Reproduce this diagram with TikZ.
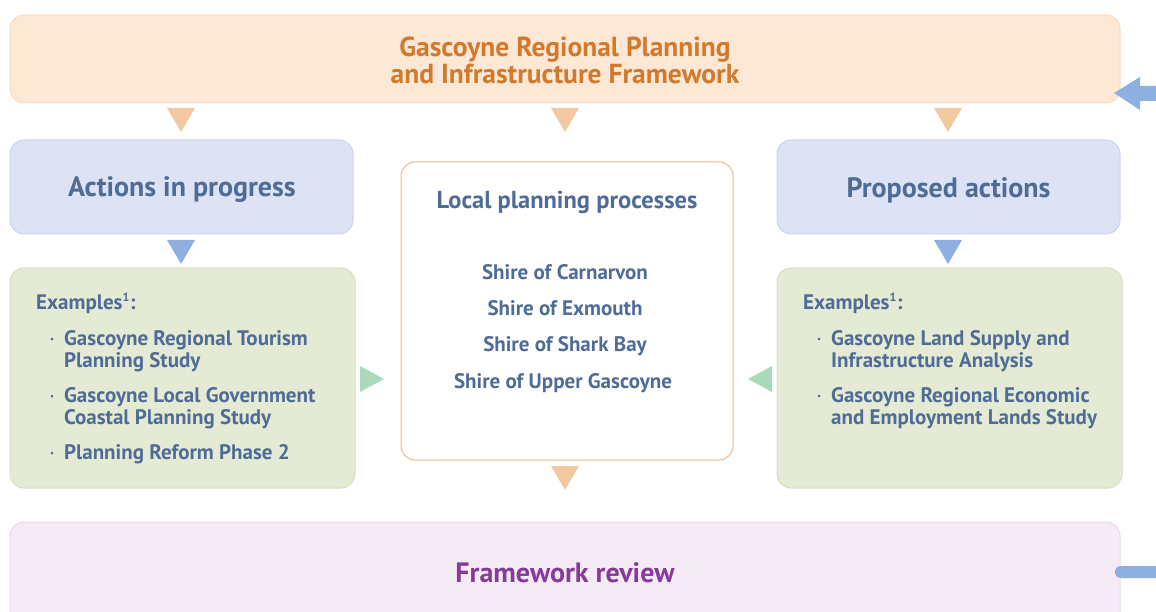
\documentclass[tikz,border=0pt]{standalone}
\usepackage{fontspec}
\setmainfont{PT Sans}
\usetikzlibrary{calc}
\definecolor{peach}{HTML}{FCE8D5}
\definecolor{peachline}{HTML}{F6DCC3}
\definecolor{orangetxt}{HTML}{D27A2C}
\definecolor{orangetri}{HTML}{F1C9A1}
\definecolor{lav}{HTML}{DDE2F4}
\definecolor{lavline}{HTML}{CDD3EE}
\definecolor{bluetxt}{HTML}{4E6C96}
\definecolor{bluetri}{HTML}{8EB0E0}
\definecolor{sage}{HTML}{E4EAD4}
\definecolor{sageline}{HTML}{D6DFC3}
\definecolor{greentri}{HTML}{AADABA}
\definecolor{centline}{HTML}{EDBA8B}
\definecolor{pinkbg}{HTML}{F4EBF5}
\definecolor{pinkline}{HTML}{E8D8EA}
\definecolor{purptxt}{HTML}{88399B}
\tikzset{
  box/.style={rounded corners=14pt, line width=1pt},
}
\begin{document}
\begin{tikzpicture}[x=1pt,y=-1pt]
\useasboundingbox (0,0) rectangle (1156,612);
\begin{scope}
\clip (0,0) rectangle (1156,612);
% boxes
\draw[box, fill=peach, draw=peachline] (10,15) rectangle (1120,103);
\node[font=\bfseries\fontsize{27.5}{27}\selectfont, text=orangetxt, align=center] (top) at (565,60) {Gascoyne Regional Planning\\and Infrastructure Framework};

\draw[box, fill=lav, draw=lavline] (10,140) rectangle (353,234);
\node[font=\bfseries\fontsize{28}{32}\selectfont, text=bluetxt] (prog) at (182,190) {Actions in progress};
\draw[box, fill=lav, draw=lavline] (777,140) rectangle (1120,234);
\node[font=\bfseries\fontsize{28}{32}\selectfont, text=bluetxt] (prop) at (948.5,190) {Proposed actions};

\draw[box, fill=white, draw=centline] (401,162) rectangle (733,460);
\node[font=\bfseries\fontsize{24.5}{28}\selectfont, text=bluetxt] (local) at (567,202) {Local planning processes};
\begin{scope}[every node/.style={font=\bfseries\fontsize{21}{25}\selectfont, text=bluetxt}]
\node (s1) at (565,272) {Shire of Carnarvon};
\node (s2) at (565,308) {Shire of Exmouth};
\node (s3) at (565,346) {Shire of Shark Bay};
\node (s4) at (563,383) {Shire of Upper Gascoyne};
\end{scope}

\draw[box, fill=sage, draw=sageline] (10,268) rectangle (355,488);
\draw[box, fill=sage, draw=sageline] (777,268) rectangle (1122,488);
\begin{scope}[every node/.style={font=\bfseries\fontsize{21}{25}\selectfont, text=bluetxt, anchor=base west, inner sep=0pt}]
\node (exl) at (36,309) {Examples\textsuperscript{\fontsize{12}{12}\selectfont 1}:};
\node (l1a) at (64,345) {Gascoyne Regional Tourism};
\node (l1b) at (64,367) {Planning Study};
\node (l2a) at (64,402) {Gascoyne Local Government};
\node (l2b) at (64,424) {Coastal Planning Study};
\node (l3a) at (64,459) {Planning Reform Phase 2};
\node (exr) at (803,309) {Examples\textsuperscript{\fontsize{12}{12}\selectfont 1}:};
\node (r1a) at (831,345) {Gascoyne Land Supply and};
\node (r1b) at (831,367) {Infrastructure Analysis};
\node (r2a) at (831,402) {Gascoyne Regional Economic};
\node (r2b) at (831,424) {and Employment Lands Study};
\end{scope}
\foreach \y in {339,396,453} {
  \fill[bluetxt] (52,\y) circle (1.5);
}
\foreach \y in {339,396} {
  \fill[bluetxt] (819,\y) circle (1.5);
}

\draw[box, fill=pinkbg, draw=pinkline] (10,522) rectangle (1120,640);
\node[font=\bfseries\fontsize{28}{32}\selectfont, text=purptxt] (rev) at (565,573) {Framework review};

% triangles
\foreach \x in {181,565,948} {
  \fill[orangetri] (\x-14,108) -- (\x+14,108) -- (\x,132) -- cycle;
}
\fill[orangetri] (551,466) -- (579,466) -- (565,490) -- cycle;
\foreach \x in {181,948} {
  \fill[bluetri] (\x-14,240) -- (\x+14,240) -- (\x,264) -- cycle;
}
\fill[greentri] (360,366) -- (360,392) -- (384,379) -- cycle;
\fill[greentri] (772,366) -- (772,392) -- (748,379) -- cycle;

% side arrows
\fill[bluetri] (1114,93) -- (1140,77) -- (1140,86) -- (1158,86) -- (1158,101) -- (1140,101) -- (1140,110) -- cycle;
\fill[bluetri, rounded corners=5pt] (1115,566) rectangle (1170,578);
\end{scope}
\end{tikzpicture}
\end{document}
